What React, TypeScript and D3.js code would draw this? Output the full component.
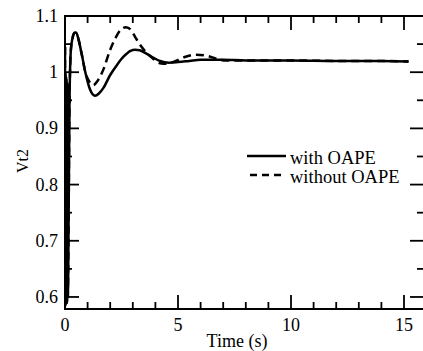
import React from "react";
import * as d3 from "d3";

const withT = [0, 0.008, 0.018, 0.028, 0.038, 0.048, 0.058, 0.068, 0.078, 0.088, 0.098, 0.108, 0.118, 0.128, 0.14, 0.2, 0.26, 0.33, 0.42, 0.5, 0.6, 0.75, 0.9, 1.1, 1.33, 1.5, 1.7, 2.0, 2.3, 2.6, 2.9, 3.1, 3.3, 3.6, 3.9, 4.2, 4.6, 5.0, 5.5, 6.0, 7.0, 8.0, 10.0, 12.0, 14.0, 15.2];
const withV = [1.045, 0.585, 1.0, 0.585, 0.99, 0.59, 0.99, 0.59, 0.98, 0.59, 0.98, 0.6, 0.97, 0.6, 0.64, 0.95, 1.04, 1.06, 1.07, 1.07, 1.058, 1.03, 1.0, 0.97, 0.958, 0.962, 0.972, 0.995, 1.013, 1.028, 1.038, 1.04, 1.039, 1.033, 1.026, 1.02, 1.017, 1.018, 1.02, 1.022, 1.022, 1.021, 1.021, 1.02, 1.02, 1.019];

const withoutT = [0, 0.008, 0.018, 0.028, 0.038, 0.048, 0.058, 0.068, 0.078, 0.088, 0.098, 0.108, 0.118, 0.128, 0.14, 0.2, 0.26, 0.33, 0.42, 0.5, 0.6, 0.75, 0.9, 1.05, 1.25, 1.45, 1.7, 2.0, 2.25, 2.5, 2.7, 2.9, 3.1, 3.3, 3.6, 3.9, 4.2, 4.5, 4.9, 5.3, 5.8, 6.3, 6.7, 7.1, 8.0, 10.0, 12.0, 14.0, 15.2];
const withoutV = [1.045, 0.585, 1.0, 0.585, 0.99, 0.59, 0.99, 0.59, 0.98, 0.59, 0.98, 0.6, 0.97, 0.6, 0.64, 0.95, 1.04, 1.06, 1.07, 1.07, 1.058, 1.03, 1.0, 0.985, 0.977, 0.985, 1.005, 1.04, 1.062, 1.077, 1.08, 1.076, 1.063, 1.05, 1.035, 1.024, 1.016, 1.015, 1.02, 1.027, 1.031, 1.029, 1.024, 1.021, 1.021, 1.021, 1.02, 1.02, 1.019];

const xMajor = [0, 5, 10, 15];
const xMinor = [1, 2, 3, 4, 6, 7, 8, 9, 11, 12, 13, 14];
const yMajor = [0.6, 0.7, 0.8, 0.9, 1.0, 1.1];
const yMinor = [0.65, 0.75, 0.85, 0.95, 1.05];
const yLabels = ["0.6", "0.7", "0.8", "0.9", "1", "1.1"];
const legendLabels = ["with OAPE", "without OAPE"];

export default function App() {
  const L = 65, R = 424, T = 16, B = 309;
  const x = d3.scaleLinear().domain([0, 15.885]).range([L, R]);
  const y = d3.scaleLinear().domain([0.5786, 1.1]).range([B, T]);
  const line = d3
    .line<[number, number]>()
    .x((d) => x(d[0]))
    .y((d) => y(d[1]))
    .curve(d3.curveMonotoneX);
  const solid = line(withT.map((t, i) => [t, withV[i]]) as [number, number][]) || "";
  const dashed = line(withoutT.map((t, i) => [t, withoutV[i]]) as [number, number][]) || "";
  const font = "'Liberation Serif', 'Times New Roman', serif";
  const maj = 14, mnr = 7;
  return (
    <svg width={423} height={351} style={{ position: "absolute", left: 0, top: 0, background: "#fff" }}>
      <defs>
        <clipPath id="plot">
          <rect x={L} y={T} width={R - L} height={B - T} />
        </clipPath>
      </defs>
      <g clipPath="url(#plot)" fill="none" stroke="#000" strokeWidth={2.5}>
        <path d={dashed} strokeDasharray="8,5" />
        <path d={solid} />
      </g>
      <g stroke="#000" strokeWidth={1.8}>
        {xMajor.map((v) => (
          <g key={"xm" + v}>
            <line x1={x(v)} x2={x(v)} y1={B} y2={B - maj} />
            <line x1={x(v)} x2={x(v)} y1={T} y2={T + maj} />
          </g>
        ))}
        {xMinor.map((v) => (
          <g key={"xn" + v}>
            <line x1={x(v)} x2={x(v)} y1={B} y2={B - mnr} />
            <line x1={x(v)} x2={x(v)} y1={T} y2={T + mnr} />
          </g>
        ))}
        {yMajor.map((v) => (
          <g key={"ym" + v}>
            <line x1={L} x2={L + maj} y1={y(v)} y2={y(v)} />
            <line x1={R} x2={R - maj} y1={y(v)} y2={y(v)} />
          </g>
        ))}
        {yMinor.map((v) => (
          <g key={"yn" + v}>
            <line x1={L} x2={L + mnr} y1={y(v)} y2={y(v)} />
            <line x1={R} x2={R - mnr} y1={y(v)} y2={y(v)} />
          </g>
        ))}
        <rect x={L} y={T} width={R - L} height={B - T} fill="none" strokeWidth={2} />
      </g>
      <g fontFamily={font} fontSize={18} fill="#000">
        {yMajor.map((v, i) => (
          <text key={"yl" + v} x={58} y={y(v) + 6} textAnchor="end">
            {yLabels[i]}
          </text>
        ))}
        {xMajor.map((v) => (
          <text key={"xl" + v} x={x(v)} y={331} textAnchor="middle">
            {String(v)}
          </text>
        ))}
        <text x={237} y={347} textAnchor="middle" fontSize={18}>
          Time (s)
        </text>
        <text transform="translate(28,161) rotate(-90)" textAnchor="middle" fontSize={16}>
          Vt2
        </text>
      </g>
      <g>
        <line x1={247} x2={286} y1={156} y2={156} stroke="#000" strokeWidth={2.5} />
        <line x1={250} x2={286} y1={175} y2={175} stroke="#000" strokeWidth={2.5} strokeDasharray="7,5" />
        <text x={290} y={164} fontFamily={font} fontSize={18.5}>
          {legendLabels[0]}
        </text>
        <text x={290} y={183} fontFamily={font} fontSize={18.5}>
          {legendLabels[1]}
        </text>
      </g>
    </svg>
  );
}
